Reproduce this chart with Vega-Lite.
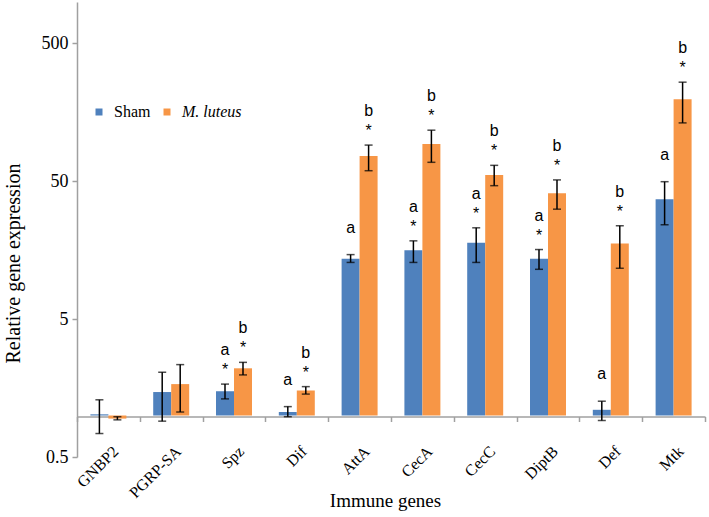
{
  "$schema": "https://vega.github.io/schema/vega-lite/v6.json",
  "width": 628,
  "height": 455,
  "autosize": "none",
  "padding": {"left": 77, "top": 2, "right": 4, "bottom": 60},
  "background": "white",
  "view": {"stroke": null},
  "config": {
    "font": "Liberation Serif, serif",
    "axis": {"labelFont": "Liberation Serif, serif", "titleFont": "Liberation Serif, serif"},
    "legend": {"labelFont": "Liberation Serif, serif"}
  },
  "data": {
    "values": [
      {"gene": "GNBP2", "group": "Sham", "value": 1.02, "lower": 0.74, "upper": 1.30, "letter": "", "star": ""},
      {"gene": "GNBP2", "group": "M. luteus", "value": 0.95, "lower": 0.93, "upper": 0.98, "letter": "", "star": ""},
      {"gene": "PGRP-SA", "group": "Sham", "value": 1.48, "lower": 0.91, "upper": 2.06, "letter": "", "star": ""},
      {"gene": "PGRP-SA", "group": "M. luteus", "value": 1.69, "lower": 1.06, "upper": 2.34, "letter": "", "star": ""},
      {"gene": "Spz", "group": "Sham", "value": 1.50, "lower": 1.32, "upper": 1.69, "letter": "a", "star": "*"},
      {"gene": "Spz", "group": "M. luteus", "value": 2.20, "lower": 1.97, "upper": 2.43, "letter": "b", "star": "*"},
      {"gene": "Dif", "group": "Sham", "value": 1.06, "lower": 0.98, "upper": 1.16, "letter": "a", "star": ""},
      {"gene": "Dif", "group": "M. luteus", "value": 1.52, "lower": 1.43, "upper": 1.62, "letter": "b", "star": "*"},
      {"gene": "AttA", "group": "Sham", "value": 13.7, "lower": 12.9, "upper": 14.7, "letter": "a", "star": ""},
      {"gene": "AttA", "group": "M. luteus", "value": 76.3, "lower": 59.7, "upper": 91.6, "letter": "b", "star": "*"},
      {"gene": "CecA", "group": "Sham", "value": 15.8, "lower": 12.9, "upper": 18.5, "letter": "a", "star": "*"},
      {"gene": "CecA", "group": "M. luteus", "value": 93.1, "lower": 68.7, "upper": 117.5, "letter": "b", "star": "*"},
      {"gene": "CecC", "group": "Sham", "value": 17.9, "lower": 12.9, "upper": 23.0, "letter": "a", "star": "*"},
      {"gene": "CecC", "group": "M. luteus", "value": 55.6, "lower": 46.5, "upper": 65.3, "letter": "b", "star": "*"},
      {"gene": "DiptB", "group": "Sham", "value": 13.7, "lower": 11.5, "upper": 16.0, "letter": "a", "star": "*"},
      {"gene": "DiptB", "group": "M. luteus", "value": 41.0, "lower": 31.4, "upper": 51.2, "letter": "b", "star": "*"},
      {"gene": "Def", "group": "Sham", "value": 1.10, "lower": 0.92, "upper": 1.27, "letter": "a", "star": ""},
      {"gene": "Def", "group": "M. luteus", "value": 17.7, "lower": 11.7, "upper": 23.8, "letter": "b", "star": "*"},
      {"gene": "Mtk", "group": "Sham", "value": 37.1, "lower": 24.2, "upper": 49.7, "letter": "a", "star": ""},
      {"gene": "Mtk", "group": "M. luteus", "value": 196.8, "lower": 132.7, "upper": 262.0, "letter": "b", "star": "*"}
    ]
  },
  "encoding": {
    "x": {
      "field": "gene",
      "type": "nominal",
      "sort": ["GNBP2", "PGRP-SA", "Spz", "Dif", "AttA", "CecA", "CecC", "DiptB", "Def", "Mtk"],
      "scale": {"paddingInner": 0, "paddingOuter": 0},
      "axis": {
        "orient": "bottom",
        "offset": -40.5,
        "title": "Immune genes",
        "titleFont": "Liberation Serif, serif",
        "titleFontSize": 19,
        "titleFontWeight": "normal",
        "titleColor": "black",
        "titleBaseline": "alphabetic",
        "titleY": 90,
        "titleX": 308,
        "labelAngle": -45,
        "labelAlign": "right",
        "labelBaseline": "middle",
        "labelFont": "Liberation Serif, serif",
        "labelFontSize": 16,
        "labelColor": "black",
        "labelPadding": 27,
        "labelOffset": 7,
        "labelOverlap": false,
        "tickBand": "extent",
        "tickSize": 5,
        "tickColor": "#a0a0a0",
        "tickWidth": 1.5,
        "domainColor": "#a0a0a0",
        "domainWidth": 1.5,
        "grid": false
      }
    },
    "xOffset": {
      "field": "group",
      "type": "nominal",
      "sort": ["Sham", "M. luteus"],
      "scale": {"paddingInner": 0, "paddingOuter": 0.745}
    }
  },
  "layer": [
    {
      "mark": {"type": "bar"},
      "encoding": {
        "y": {
          "field": "value",
          "type": "quantitative",
          "scale": {"type": "log", "domain": [0.5, 1000], "nice": false},
          "axis": {
            "values": [0.5, 5, 50, 500],
            "format": "~g",
            "title": "Relative gene expression",
            "titleFont": "Liberation Serif, serif",
            "titleFontSize": 20,
            "titleFontWeight": "normal",
            "titleColor": "black",
            "titleAngle": -90,
            "titleAlign": "center",
            "titleBaseline": "middle",
            "titleX": -64,
            "titleY": 261,
            "labelFont": "Liberation Serif, serif",
            "labelFontSize": 18,
            "labelColor": "black",
            "labelPadding": 4,
            "tickSize": 5,
            "tickColor": "#a0a0a0",
            "tickWidth": 1.5,
            "domainColor": "#a0a0a0",
            "domainWidth": 1.5,
            "grid": false
          }
        },
        "y2": {"datum": 1},
        "color": {
          "field": "group",
          "type": "nominal",
          "sort": ["Sham", "M. luteus"],
          "scale": {"domain": ["Sham", "M. luteus"], "range": ["#4f81bd", "#f79646"]},
          "legend": {
            "orient": "none",
            "legendX": 14,
            "legendY": 102,
            "direction": "horizontal",
            "title": null,
            "symbolType": "square",
            "symbolSize": 49,
            "symbolStrokeWidth": 0,
            "labelFont": "Liberation Serif, serif",
            "labelFontSize": 16,
            "labelColor": "black",
            "labelOffset": 7,
            "columnPadding": 8,
            "padding": 0,
            "encode": {
              "labels": {
                "update": {
                  "font": {"value": "Liberation Serif, serif"},
                  "fontSize": {"value": 16},
                  "fontStyle": {"signal": "datum.label == 'M. luteus' ? 'italic' : 'normal'"}
                }
              }
            }
          }
        }
      }
    },
    {
      "mark": {"type": "rule", "color": "black", "strokeWidth": 1.5},
      "encoding": {
        "y": {"field": "lower", "type": "quantitative"},
        "y2": {"field": "upper"}
      }
    },
    {
      "mark": {"type": "tick", "color": "black", "thickness": 1.5, "size": 8, "orient": "horizontal"},
      "encoding": {"y": {"field": "upper", "type": "quantitative"}}
    },
    {
      "mark": {"type": "tick", "color": "black", "thickness": 1.5, "size": 8, "orient": "horizontal"},
      "encoding": {"y": {"field": "lower", "type": "quantitative"}}
    },
    {
      "transform": [{"filter": "datum.star != ''"}],
      "mark": {"type": "text", "font": "Liberation Sans", "fontSize": 16, "color": "black", "baseline": "middle", "dy": -14},
      "encoding": {
        "y": {"field": "upper", "type": "quantitative"},
        "text": {"field": "star"}
      }
    },
    {
      "transform": [{"filter": "datum.star != '' && datum.letter != ''"}],
      "mark": {"type": "text", "font": "Liberation Sans", "fontSize": 16, "color": "black", "baseline": "middle", "dy": -34},
      "encoding": {
        "y": {"field": "upper", "type": "quantitative"},
        "text": {"field": "letter"}
      }
    },
    {
      "transform": [{"filter": "datum.star == '' && datum.letter != ''"}],
      "mark": {"type": "text", "font": "Liberation Sans", "fontSize": 16, "color": "black", "baseline": "middle", "dy": -27},
      "encoding": {
        "y": {"field": "upper", "type": "quantitative"},
        "text": {"field": "letter"}
      }
    }
  ]
}
